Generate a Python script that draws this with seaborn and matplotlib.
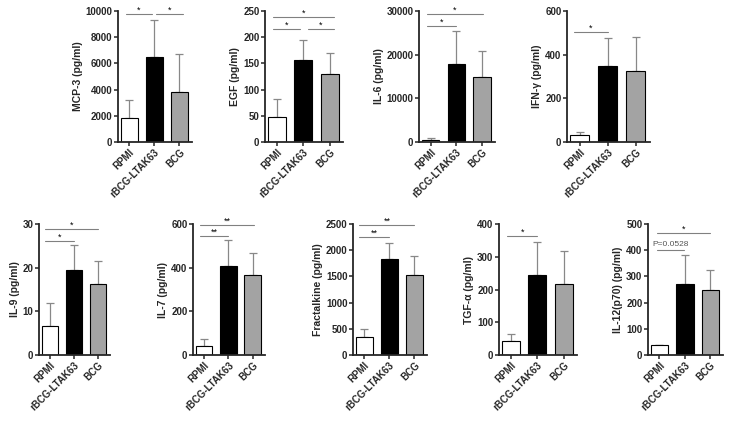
import matplotlib
matplotlib.use("Agg")
import matplotlib.pyplot as plt
import seaborn as sns
import pandas as pd

sns.set_theme(style="ticks")
plt.rcParams['font.family'] = ['Liberation Sans', 'DejaVu Sans']
plt.rcParams['font.weight'] = 'bold'

groups = ["RPMI", "rBCG-LTAK63", "BCG"]
bar_colors = ["white", "black", "#a3a3a3"]

mcp3_mean = [1800, 6500, 3800]
mcp3_top = [3200, 9300, 6700]
egf_mean = [47, 157, 130]
egf_top = [82, 195, 170]
il6_mean = [500, 17800, 15000]
il6_top = [900, 25500, 20800]
ifng_mean = [30, 350, 325]
ifng_top = [45, 475, 480]
il9_mean = [6.6, 19.4, 16.3]
il9_top = [11.8, 25.3, 21.5]
il7_mean = [40, 408, 368]
il7_top = [72, 525, 465]
fkn_mean = [340, 1830, 1520]
fkn_top = [490, 2140, 1890]
tgfa_mean = [42, 243, 218]
tgfa_top = [65, 345, 318]
il12_mean = [38, 270, 248]
il12_top = [38, 382, 325]

# panel: label, means, tops, ymax, ystep, sig list (x0, x1, yfrac of ymax, text)
panels = [
    ("MCP-3 (pg/ml)", mcp3_mean, mcp3_top, 10000, 2000,
     [(-0.14, 0.9, 0.975, "*"), (1.06, 2.13, 0.975, "*")]),
    ("EGF (pg/ml)", egf_mean, egf_top, 250, 50,
     [(-0.13, 0.87, 0.865, "*"), (1.17, 2.17, 0.865, "*"), (-0.13, 2.17, 0.955, "*")]),
    ("IL-6 (pg/ml)", il6_mean, il6_top, 30000, 10000,
     [(-0.15, 1.0, 0.885, "*"), (-0.15, 2.05, 0.975, "*")]),
    ("IFN-\u03b3 (pg/ml)", ifng_mean, ifng_top, 600, 200,
     [(-0.2, 1.0, 0.84, "*")]),
    ("IL-9 (pg/ml)", il9_mean, il9_top, 30, 10,
     [(-0.2, 1.0, 0.87, "*"), (-0.2, 2.0, 0.96, "*")]),
    ("IL-7 (pg/ml)", il7_mean, il7_top, 600, 200,
     [(-0.15, 1.0, 0.91, "**"), (-0.15, 2.05, 0.99, "**")]),
    ("Fractalkine (pg/ml)", fkn_mean, fkn_top, 2500, 500,
     [(-0.2, 1.0, 0.90, "**"), (-0.2, 2.0, 0.99, "**")]),
    ("TGF-\u03b1 (pg/ml)", tgfa_mean, tgfa_top, 400, 100,
     [(-0.15, 1.0, 0.91, "*")]),
    ("IL-12(p70) (pg/ml)", il12_mean, il12_top, 500, 100,
     [(-0.1, 0.95, 0.80, "P=0.0528"), (-0.1, 2.0, 0.93, "*")]),
]

W, H = 734, 421
fig = plt.figure(figsize=(W / 100, H / 100), dpi=100)

# axes boxes in pixels: left, right, top, bottom
boxes = [
    (118, 192, 11, 142), (265, 343, 11, 142), (419, 495, 11, 142), (567, 650, 11, 142),
    (39, 110, 224, 355), (193, 265, 224, 355), (353, 427, 224, 355),
    (499, 577, 224, 355), (648, 723, 224, 355),
]

for (label, means, tops, ymax, ystep, sigs), (l, r, t, b) in zip(panels, boxes):
    ax = fig.add_axes([l / W, 1 - b / H, (r - l) / W, (b - t) / H])
    df = pd.DataFrame({"group": groups, "value": means})
    sns.barplot(data=df, x="group", y="value", hue="group", palette=bar_colors,
                edgecolor="black", linewidth=0.8, width=0.68, legend=False, ax=ax,
                errorbar=None)
    err = [t_ - m for t_, m in zip(tops, means)]
    ax.errorbar(range(3), means, yerr=[[0, 0, 0], err], fmt="none",
                ecolor="#888888", elinewidth=0.9, capsize=3, capthick=0.9, zorder=1)
    for bar in ax.patches:
        bar.set_zorder(2)
    ax.set_ylim(0, ymax)
    ax.set_xlim(-0.45, 2.5)
    ax.set_yticks(range(0, ymax + 1, ystep))
    ax.set_xlabel("")
    ax.set_ylabel(label, fontsize=7.5, fontweight="bold", labelpad=2)
    ax.tick_params(axis="y", labelsize=7, length=3, width=1.1, pad=1)
    ax.tick_params(axis="x", labelsize=7, length=3, width=1.1, pad=1)
    for lab in ax.get_yticklabels():
        lab.set_fontweight("bold")
    ax.set_xticks(range(3))
    ax.set_xticklabels(groups, rotation=45, ha="right", rotation_mode="anchor",
                       fontweight="bold", fontsize=7)
    sns.despine(ax=ax)
    ax.spines["left"].set_linewidth(1.3)
    ax.spines["bottom"].set_linewidth(1.3)
    for x0, x1, yf, txt in sigs:
        y = yf * ymax
        ax.plot([x0, x1], [y, y], color="#808080", lw=0.8, clip_on=False)
        if txt.startswith("P"):
            ax.text((x0 + x1) / 2, y + 0.015 * ymax, txt, ha="center", va="bottom",
                    fontsize=6, fontweight="normal", color="#555555")
        else:
            ax.text((x0 + x1) / 2, y - 0.005 * ymax, txt, ha="center", va="bottom",
                    fontsize=6.5, fontweight="normal", color="black")

fig.savefig("out.png", dpi=100, facecolor="white")
